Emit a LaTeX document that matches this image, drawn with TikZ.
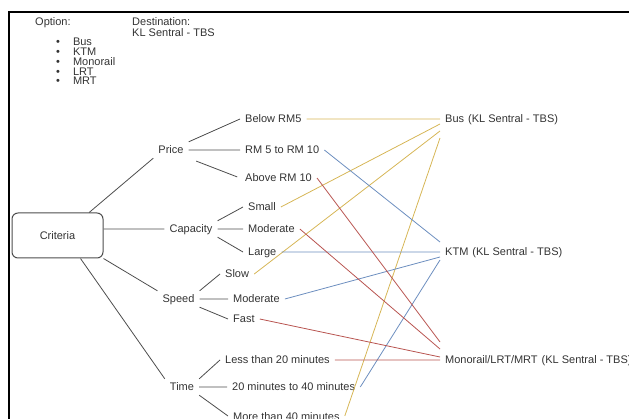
\documentclass[tikz,border=0pt]{standalone}
\usepackage{fontspec}
\setmainfont{Liberation Sans}
\usetikzlibrary{positioning}
\definecolor{txtgray}{HTML}{333333}
\definecolor{linegray}{HTML}{4D4D4D}
\definecolor{busline}{HTML}{D6B656}
\definecolor{ktmline}{HTML}{6C8EBF}
\definecolor{monoline}{HTML}{B85450}

\begin{document}
\begin{tikzpicture}[x=1pt,y=-1pt,
  lbl/.style={inner xsep=5pt,inner ysep=4pt,text height=8pt,text depth=0pt,text=txtgray,font=\fontsize{11}{13}\selectfont},
  leaf/.style={lbl,anchor=west},
  branch/.style={draw=linegray,line width=0.8pt},
  busc/.style={draw=busline,line width=0.8pt},
  ktmc/.style={draw=ktmline,line width=0.8pt},
  monoc/.style={draw=monoline,line width=0.8pt}]
 \useasboundingbox (0,0) rectangle (629,419);
 \clip (0,0) rectangle (629,419);
 \draw[line width=1.5pt] (9,440)--(9,12)--(640,12);
 % header
 \node[leaf] (opt) at (30,22) {Option:};
 \node[lbl,anchor=north west,align=left,text height=,inner ysep=0pt,font=\fontsize{11}{9.75}\selectfont] (optlist) at (51,38) {\textbullet\hspace{13pt}Bus\\\textbullet\hspace{13pt}KTM\\\textbullet\hspace{13pt}Monorail\\\textbullet\hspace{13pt}LRT\\\textbullet\hspace{13pt}MRT};
 \node[lbl,anchor=west,align=left,text height=,font=\fontsize{11}{11}\selectfont] (dest) at (127,27) {Destination:\\KL Sentral - TBS};
 % criteria tree
 \node[lbl,draw=linegray,line width=1pt,rounded corners=6pt,minimum width=91pt,minimum height=45pt] (crit) at (57.5,235.5) {Criteria};
 \node[lbl] (price) at (171,150) {Price};
 \node[lbl] (cap) at (191,229) {Capacity};
 \node[lbl] (speed) at (178.5,299) {Speed};
 \node[lbl] (time) at (182,387) {Time};
 \node[leaf] (bel) at (240,119) {Below RM5};
 \node[leaf] (r510) at (240,150) {RM 5 to RM 10};
 \node[leaf] (abv) at (240,178) {Above RM 10};
 \node[leaf] (small) at (243,207) {Small};
 \node[leaf] (capmod) at (243,229) {Moderate};
 \node[leaf] (large) at (243,252) {Large};
 \node[leaf] (slow) at (220,274) {Slow};
 \node[leaf] (spdmod) at (228,299) {Moderate};
 \node[leaf] (fast) at (228,319) {Fast};
 \node[leaf] (lt20) at (220,360) {Less than 20 minutes};
 \node[leaf] (t2040) at (227,387) {20 minutes to 40 minutes};
 \node[leaf] (gt40) at (228,416) {More than 40 minutes};
 \node[leaf] (bus) at (440,119) {Bus\hspace{4pt}(KL Sentral - TBS)};
 \node[leaf] (ktm) at (440,252) {KTM\hspace{4pt}(KL Sentral - TBS)};
 \node[leaf] (mono) at (440,360) {Monorail/LRT/MRT\hspace{4pt}(KL Sentral - TBS)};
 \draw[branch] (crit.36)--(price.south west) (crit.8)--(cap.west) (crit.south east)--(speed.north west) (crit.-45)--(time.north west);
 \draw[branch,shorten <=8pt,shorten >=3pt] (price.north east)--(bel.west) (price.east)--(r510.west) (price.south east)--(abv.west);
 \draw[branch] (cap.north east)--(small.west) (cap.east)--(capmod.west) (cap.south east)--(large.west);
 \draw[branch] (speed.north east)--(slow.west) (speed.east)--(spdmod.west) (speed.south east)--(fast.west);
 \draw[branch] (time.north east)--(lt20.west) (time.east)--(t2040.west) (time.south east)--(gt40.west);
 % options
 \draw[busc] (bel.east)--(bus.west) (small.east)--([yshift=-5pt]bus.west) (slow.east)--([yshift=-12pt]bus.west) (gt40.east)--([yshift=-19pt]bus.west);
 \draw[ktmc] (r510.east)--([yshift=10pt]ktm.west) (large.east)--(ktm.west) (spdmod.east)--([yshift=-5pt]ktm.west) (t2040.east)--([yshift=-8pt]ktm.west);
 \draw[monoc] (abv.east)--([yshift=18pt]mono.west) (capmod.east)--([yshift=11pt]mono.west) (fast.east)--([yshift=3pt]mono.west) (lt20.east)--(mono.west);
\end{tikzpicture}
\end{document}
